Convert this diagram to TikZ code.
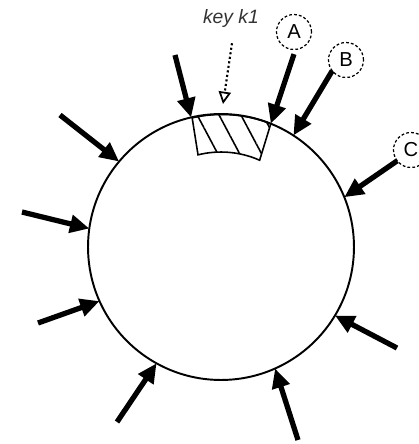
\documentclass[tikz,border=0pt]{standalone}
\usepackage{fontspec}
\setmainfont{Liberation Sans}
\usetikzlibrary{arrows.meta,calc,patterns.meta}

\begin{document}
\begin{tikzpicture}[x=0.02cm, y=-0.02cm,
    hit/.style={line width=3pt, -{Triangle[length=11pt,width=10pt]}},
    tag/.style={circle, draw, line width=0.7pt, dash pattern=on 1.6pt off 1.2pt, minimum size=0.7cm, inner sep=0pt, font=\fontsize{11.5}{13}\selectfont},
    keyarrow/.style={line width=1.2pt, dash pattern=on 1.2pt off 1.4pt, -{Triangle[open,length=7pt,width=7pt,line width=1pt]}}]
  \useasboundingbox (0,0) rectangle (419,444);
  \node[circle, draw, line width=1.1pt, minimum size=5.32cm, inner sep=0pt, outer sep=0pt] (ring) at (221,247) {};
  % the hatched slice
  \draw[line width=0.9pt, pattern={Lines[angle=-62, distance=11pt, line width=0.9pt]}]
    (ring.68.5) arc[start angle=68.5, end angle=103, radius=2.66cm]
    -- ($(ring.center)+(104:1.9cm)$) arc[start angle=104, end angle=66, radius=1.9cm] -- cycle;
  \node[font=\itshape\fontsize{11}{13}\selectfont, text=black!80] (key) at (231,18) {key k1};
  \coordinate (keytip) at (223,104);
  \draw[keyarrow] (key.south) ++(1,10) coordinate (keytop) (keytop) -- (keytip);
  \node[tag] (A) at (294,32) {A};
  \node[tag] (B) at (346,60) {B};
  \node[tag] (C) at (411,150) {C};
  \coordinate (t1) at (175,55);
  \coordinate (t5) at (60,115);
  \coordinate (t6) at (22,212);
  \coordinate (t7) at (38,323);
  \coordinate (t8) at (117,422);
  \coordinate (t9) at (298,440);
  \coordinate (t10) at (397,348);
  \draw[hit] (t1) -- (ring.103);
  \draw[hit] (A.south) ++(0,4) coordinate (tA) (tA) -- (ring.68.5);
  \draw[hit] (B.south west) ++(-1,-2) coordinate (tB) (tB) -- (ring.57.4);
  \draw[hit] (C.south west) ++(-1,-2) coordinate (tC) (tC) -- (ring.22);
  \draw[hit] (t5) -- (ring.140);
  \draw[hit] (t6) -- (ring.172);
  \draw[hit] (t7) -- (ring.204.4);
  \draw[hit] (t8) -- (ring.241.5);
  \draw[hit] (t9) -- (ring.294);
  \draw[hit] (t10) -- (ring.329);
\end{tikzpicture}
\end{document}
